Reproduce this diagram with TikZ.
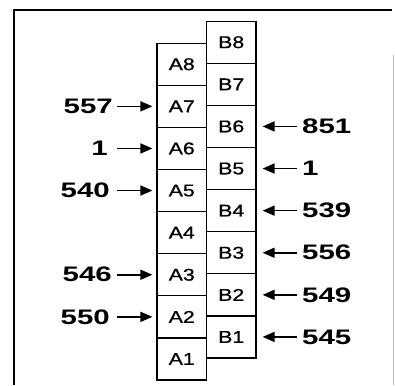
\documentclass[tikz,border=0pt]{standalone}
\usepackage{graphicx}
\usepackage{fontspec}
\setmainfont{Liberation Sans}
\newfontfamily\cellfont{Liberation Sans}[FakeBold=0.8]
\usetikzlibrary{arrows.meta}

\newcommand{\wide}[1]{\scalebox{1.25}[1]{#1}}

\begin{document}
\begin{tikzpicture}[x=1pt, y=1pt,
  cell/.style={draw, line width=1.2pt, minimum width=49.5pt, minimum height=42.1pt,
    inner sep=0pt, font=\fontsize{17}{17}\cellfont},
  num/.style={inner sep=0pt, font=\fontsize{21}{21}\selectfont\bfseries},
  feed/.style={-{Triangle[length=12pt,width=10pt]}, line width=1.6pt}]

\def\hcell{42.1}

% frame
\useasboundingbox (0,0) rectangle (395,385);
\draw[line width=2pt] (14,0) -- (14,375) -- (392,375);
\draw[black!25, line width=0.8pt] (393,0) -- (393,330);

%column of A cells
\foreach \i in {1,...,8}
  \node[cell] (A\i) at (181.75, {5+\hcell*(\i-0.5)}) {\wide{A\i}};

%column of B cells, half a cell higher
\foreach \i in {1,...,8}
  \node[cell] (B\i) at (231.25, {27+\hcell*(\i-0.5)}) {\wide{B\i}};

%arrows into the A cells
\foreach \i/\val/\lx in {7/557/113, 6/1/108, 5/540/110, 3/546/112, 2/550/110} {
  \coordinate (tA\i) at (117, {5+\hcell*(\i-0.5)});
  \node[num, anchor=east] (nA\i) at (\lx, {5+\hcell*(\i-0.5)}) {\scalebox{1.4}[1]{\val}};
  \draw[feed, shorten >=4pt] (tA\i) -- (A\i);
}

%arrows into the B cells
\foreach \i/\val in {6/851, 5/1, 4/539, 3/556, 2/549, 1/545} {
  \coordinate (tB\i) at (297, {27+\hcell*(\i-0.5)});
  \node[num, anchor=west] (nB\i) at (302, {27+\hcell*(\i-0.5)}) {\scalebox{1.4}[1]{\val}};
  \draw[feed, shorten >=6pt] (tB\i) -- (B\i);
}

\end{tikzpicture}
\end{document}
